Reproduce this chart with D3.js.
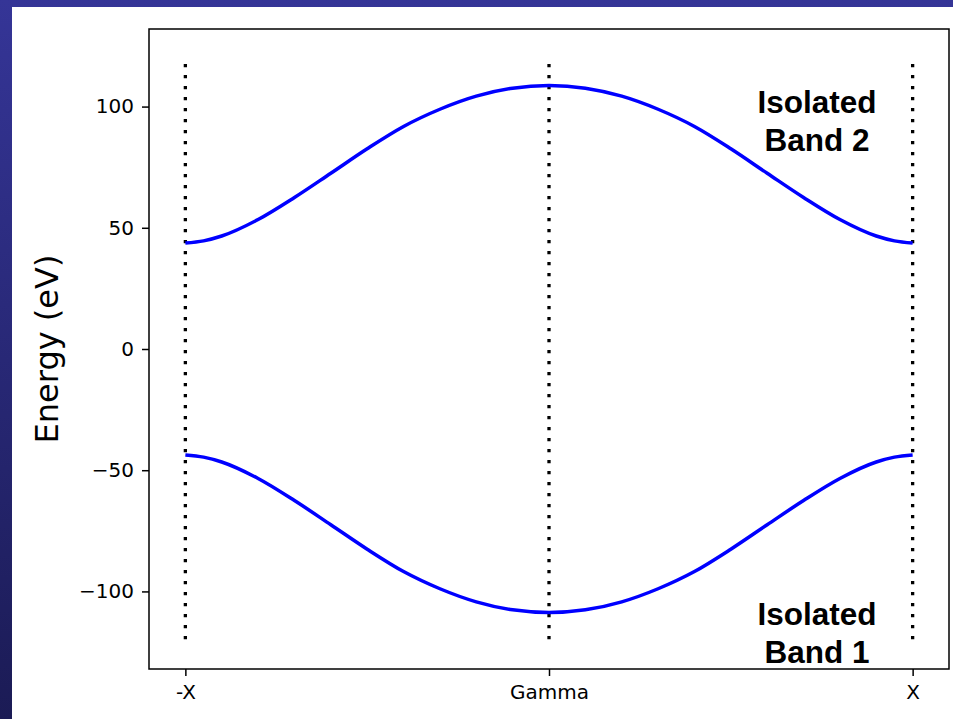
<!DOCTYPE html>
<html>
<head>
<meta charset="utf-8">
<script src="https://cdn.jsdelivr.net/npm/d3@7/dist/d3.min.js"></script>
<style>
	html, body { margin: 0; padding: 0; background: #fff; }
	svg { display: block; }
	.tick text { font-family: "DejaVu Sans", sans-serif; font-size: 20px; fill: #000; }
	.tick line { stroke: #000; stroke-width: 1.5px; }
</style>
</head>
<body>
<script>
// k along the path -X -> Gamma -> X
var kPoints = [-1, -0.95, -0.9, -0.8, -0.7, -0.6, -0.5, -0.4, -0.3, -0.2, -0.1, 0,
	0.1, 0.2, 0.3, 0.4, 0.5, 0.6, 0.7, 0.8, 0.9, 0.95, 1];
var band2 = [43.7, 44.6, 46.6, 53.4, 62.5, 72.5, 82.6, 91.8, 98.9, 104.3, 107.6, 108.7,
	107.6, 104.3, 98.9, 91.8, 82.6, 72.5, 62.5, 53.4, 46.6, 44.6, 43.7];
var band1 = [-43.7, -44.6, -46.6, -53.4, -62.5, -72.5, -82.6, -91.8, -98.9, -104.3, -107.6, -108.7,
	-107.6, -104.3, -98.9, -91.8, -82.6, -72.5, -62.5, -53.4, -46.6, -44.6, -43.7];
var symPoints = [-1, 0, 1];
var symLabels = ["-X", "Gamma", "X"];
var yTicks = [-100, -50, 0, 50, 100];
var symRange = [-120, 120];

var W = 953, H = 719;
var frame = {left: 149, right: 949, top: 29, bottom: 669};

var svg = d3.select("body").append("svg")
	.attr("width", W)
	.attr("height", H);

// slide background
var grad = svg.append("defs").append("linearGradient")
	.attr("id", "bg")
	.attr("x1", 0).attr("y1", 0).attr("x2", 0).attr("y2", 1);
grad.append("stop").attr("offset", "0%").attr("stop-color", "#353597");
grad.append("stop").attr("offset", "100%").attr("stop-color", "#1b1b55");
svg.append("rect").attr("width", W).attr("height", H).attr("fill", "url(#bg)");
svg.append("rect")
	.attr("x", 12).attr("y", 7)
	.attr("width", W - 12).attr("height", H - 7)
	.attr("fill", "#fff");

var x = d3.scaleLinear()
	.domain([-1.1, 1.1])
	.range([frame.left, frame.right]);
var y = d3.scaleLinear()
	.domain([-132, 132])
	.range([frame.bottom, frame.top]);

// symmetry point markers
svg.append("g").selectAll("line")
	.data(symPoints)
	.enter().append("line")
		.attr("x1", function(d) { return x(d); })
		.attr("x2", function(d) { return x(d); })
		.attr("y1", y(symRange[1]))
		.attr("y2", y(symRange[0]))
		.attr("stroke", "#000")
		.attr("stroke-width", 3.3)
		.attr("stroke-dasharray", "3.3,7.7")
		.attr("stroke-dashoffset", 5.1);

var line = d3.line()
	.x(function(d, i) { return x(kPoints[i]); })
	.y(function(d) { return y(d); })
	.curve(d3.curveMonotoneX);

svg.selectAll("path.band")
	.data([band1, band2])
	.enter().append("path")
		.attr("class", "band")
		.attr("d", line)
		.attr("fill", "none")
		.attr("stroke", "#0000ff")
		.attr("stroke-width", 3.5);

// axes
var yAxis = d3.axisLeft(y)
	.tickValues(yTicks)
	.tickSize(7)
	.tickPadding(8);
svg.append("g")
	.attr("transform", "translate(" + frame.left + ",0)")
	.call(yAxis)
	.call(function(g) { g.select(".domain").remove(); });

var xAxis = d3.axisBottom(x)
	.tickValues(symPoints)
	.tickFormat(function(d, i) { return symLabels[i]; })
	.tickSize(7)
	.tickPadding(9);
svg.append("g")
	.attr("transform", "translate(0," + frame.bottom + ")")
	.call(xAxis)
	.call(function(g) { g.select(".domain").remove(); });

svg.append("rect")
	.attr("x", frame.left).attr("y", frame.top)
	.attr("width", frame.right - frame.left)
	.attr("height", frame.bottom - frame.top)
	.attr("fill", "none")
	.attr("stroke", "#000")
	.attr("stroke-width", 1.5);

svg.append("text")
	.attr("transform", "translate(58," + y(0) + ") rotate(-90)")
	.attr("text-anchor", "middle")
	.style("font-family", "DejaVu Sans, sans-serif")
	.style("font-size", "32px")
	.text("Energy (eV)");

// band labels
var labels = [
	{lines: ["Isolated", "Band 2"], base: 113},
	{lines: ["Isolated", "Band 1"], base: 625}
];
labels.forEach(function(l) {
	var t = svg.append("text")
		.attr("text-anchor", "middle")
		.style("font-family", "Liberation Sans, Arial, sans-serif")
		.style("font-weight", "bold")
		.style("font-size", "31.5px");
	l.lines.forEach(function(s, i) {
		t.append("tspan")
			.attr("x", 817)
			.attr("y", l.base + i * 38)
			.text(s);
	});
});
</script>
</body>
</html>
